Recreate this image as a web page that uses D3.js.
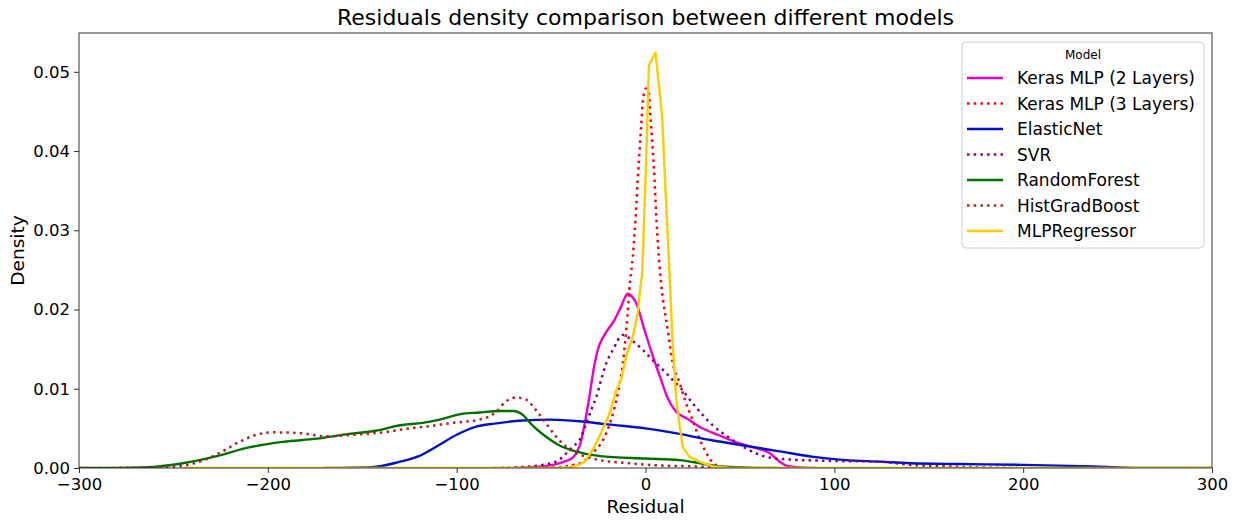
<!DOCTYPE html>
<html>
<head>
<meta charset="utf-8">
<script src="https://cdn.jsdelivr.net/npm/d3@7"></script>
<style>
  body { margin: 0; background: #fff; }
  text { font-family: "DejaVu Sans", sans-serif; fill: #000; }
</style>
</head>
<body>
<div id="chart"></div>
<script>
// residual / density points
var modelNames = ["Keras MLP (2 Layers)", "Keras MLP (3 Layers)", "ElasticNet", "SVR",
  "RandomForest", "HistGradBoost", "MLPRegressor"];

var kerasMlp2 = [[-70,0],[-55,0.0002],[-49,0.0004],[-43,0.0008],[-38.5,0.0013],[-34,0.0035],
  [-31.8,0.0061],[-29.7,0.009],[-27.5,0.0124],[-25.3,0.0149],[-21.7,0.0168],[-16.4,0.0187],
  [-12.9,0.0204],[-9.4,0.022],[-7,0.0216],[-4.9,0.0208],[-0.5,0.0174],[3.9,0.0141],[8.3,0.0111],
  [11.8,0.0088],[16.2,0.0071],[21.5,0.0063],[28.6,0.0052],[39.2,0.0041],[49.8,0.0031],
  [58.6,0.0025],[65.7,0.0019],[71,0.0008],[74.5,0.0003],[80,0.0001],[90,0]];

var kerasMlp3 = [[-60,0],[-45,0.0001],[-40,0.0003],[-33,0.0008],[-28,0.0019],[-22.6,0.0035],
  [-18.2,0.0061],[-14.7,0.0094],[-12,0.0132],[-10.2,0.0174],[-8.1,0.0237],[-6.7,0.0267],
  [-5.8,0.0296],[-4.9,0.033],[-4.1,0.0364],[-3.2,0.0397],[-2.3,0.0431],[-1.4,0.0463],
  [0.35,0.0479],[1.8,0.0473],[2.5,0.0448],[3.5,0.0414],[4.8,0.0364],[5.6,0.0322],[6.7,0.0279],
  [8.3,0.0233],[11.8,0.0174],[14.5,0.0132],[18,0.0108],[21,0.0085],[25,0.006],[28.6,0.0037],
  [32,0.002],[35.5,0.0007],[40,0.0002],[50,0]];

var elasticNet = [[-170,0],[-145,0.0001],[-130,0.0008],[-120,0.0015],[-110,0.0028],[-100,0.0042],
  [-90,0.0052],[-80,0.0056],[-65,0.006],[-50,0.0061],[-35,0.0059],[-20,0.0055],[0,0.005],
  [18,0.0043],[35,0.0035],[53,0.0028],[71,0.0021],[89,0.0014],[106,0.001],[124,0.0008],
  [140,0.0006],[166,0.0005],[200,0.0004],[237,0.0002],[255,0.00005],[270,0],[300,0]];

var svr = [[-80,0],[-67,0.0001],[-54,0.0004],[-46,0.001],[-38.5,0.0027],[-35,0.0035],[-31.4,0.0056],
  [-28.8,0.0073],[-26,0.009],[-23.5,0.0111],[-20.8,0.0132],[-17.3,0.0149],[-12,0.0168],
  [-6.7,0.016],[-1.4,0.0149],[3.9,0.0136],[9.2,0.0124],[13.6,0.0113],[19,0.01],[24.2,0.0084],
  [29.5,0.0069],[36,0.0053],[44.5,0.0038],[53,0.0025],[64,0.0014],[74.5,0.0011],[97.5,0.0009],
  [124,0.0008],[140,0.0004],[160,0.0002],[180,0.00005],[200,0]];

var randomForest = [[-300,0],[-280,0],[-263,0.0001],[-245,0.0006],[-227,0.0015],[-210,0.0026],
  [-192,0.0033],[-174,0.0037],[-157,0.0043],[-143,0.0047],[-130,0.0054],[-118,0.0057],
  [-109,0.0061],[-98,0.0068],[-88,0.007],[-77,0.0072],[-70,0.0072],[-65,0.0067],[-60,0.0054],
  [-53,0.004],[-46,0.0029],[-37,0.0021],[-24,0.0015],[0,0.0012],[18,0.001],[29,0.0006],
  [39,0.0002],[55,0.00005],[70,0]];

var histGradBoost = [[-300,0],[-260,0.00005],[-248,0.0002],[-236,0.0008],[-224,0.0021],
  [-215,0.0033],[-206,0.0042],[-197,0.0045],[-183,0.0044],[-169,0.004],[-155,0.0042],
  [-139,0.0045],[-125,0.005],[-114,0.0053],[-102,0.0057],[-88,0.0061],[-79,0.0071],
  [-74,0.0084],[-68.5,0.0089],[-63,0.0086],[-58,0.0073],[-52.6,0.0056],[-45.6,0.0035],
  [-38.5,0.0021],[-31.4,0.0014],[-24.4,0.001],[-8.5,0.0006],[9,0.0003],[27,0.0002],
  [40,0.00005],[60,0]];

var mlpRegressor = [[-245,0],[-45,0],[-40,0.0001],[-35,0.0004],[-32.3,0.0008],[-27.9,0.0023],
  [-23.5,0.0044],[-19,0.0069],[-15.5,0.0098],[-12.9,0.0111],[-10.2,0.0141],[-6.7,0.0166],
  [-4.1,0.0195],[-2.3,0.0237],[-1.8,0.0242],[-0.5,0.033],[0.7,0.0414],[1.8,0.0508],[5.3,0.0524],
  [8.8,0.0444],[10.6,0.0351],[12.3,0.0267],[13,0.0229],[14.5,0.0153],[16.2,0.009],[18,0.0055],
  [19.8,0.0026],[23.3,0.0014],[28.6,0.0008],[35.6,0.0002],[45,0],[300,0]];

var xTicks = [-300, -200, -100, 0, 100, 200, 300];
var yTicks = [0, 0.01, 0.02, 0.03, 0.04, 0.05];

var series = [
  { name: modelNames[0], data: kerasMlp2, color: "#ee00cc", dotted: false },
  { name: modelNames[1], data: kerasMlp3, color: "#ff0000", dotted: true },
  { name: modelNames[2], data: elasticNet, color: "#0010cc", dotted: false },
  { name: modelNames[3], data: svr, color: "#800080", dotted: true },
  { name: modelNames[4], data: randomForest, color: "#007000", dotted: false },
  { name: modelNames[5], data: histGradBoost, color: "#b22222", dotted: true },
  { name: modelNames[6], data: mlpRegressor, color: "#ffcc00", dotted: false, linear: true }
];

var svgWidth = 1237, svgHeight = 520;
var margin = { top: 33, right: 25, bottom: 52, left: 79 };
var width = svgWidth - margin.left - margin.right;
var height = svgHeight - margin.top - margin.bottom;

var svg = d3.select("#chart").append("svg")
  .attr("width", svgWidth)
  .attr("height", svgHeight);

var plot = svg.append("g")
  .attr("transform", `translate(${margin.left}, ${margin.top})`);

var x = d3.scaleLinear().domain([-300, 300]).range([0, width]);
var y = d3.scaleLinear().domain([0, 0.0549]).range([height, 0]);

svg.append("defs").append("clipPath").attr("id", "clip")
  .append("rect").attr("width", width).attr("height", height);

// lines
var lines = plot.append("g").attr("clip-path", "url(#clip)");
series.forEach(function (s) {
  var line = d3.line()
    .x(d => x(d[0]))
    .y(d => y(d[1]))
    .curve(s.linear ? d3.curveLinear : d3.curveMonotoneX);
  lines.append("path")
    .datum(s.data)
    .attr("fill", "none")
    .attr("stroke", s.color)
    .attr("stroke-width", s.dotted ? 2.5 : 2.4)
    .attr("stroke-dasharray", s.dotted ? "2.5,4.2" : null)
    .attr("stroke-linejoin", "round")
    .attr("d", line);
});

// axes
var xAxis = plot.append("g")
  .attr("transform", `translate(0, ${height})`)
  .call(d3.axisBottom(x).tickValues(xTicks).tickSize(5).tickPadding(5));
var yAxis = plot.append("g")
  .call(d3.axisLeft(y).tickValues(yTicks).tickFormat(d3.format(".2f")).tickSize(5).tickPadding(4));
[xAxis, yAxis].forEach(function (a) {
  a.select(".domain").remove();
  a.selectAll("line").attr("stroke", "#333");
  a.selectAll("text").style("font-size", "16.5px").attr("fill", "#000");
});

plot.append("rect")
  .attr("width", width).attr("height", height)
  .attr("fill", "none").attr("stroke", "#333").attr("stroke-width", 1);

// labels
svg.append("text")
  .attr("x", margin.left + width / 2).attr("y", 25)
  .attr("text-anchor", "middle").style("font-size", "22px")
  .text("Residuals density comparison between different models");
svg.append("text")
  .attr("x", margin.left + width / 2).attr("y", 513)
  .attr("text-anchor", "middle").style("font-size", "18.5px")
  .text("Residual");
svg.append("text")
  .attr("transform", `translate(24, ${margin.top + height / 2}) rotate(-90)`)
  .attr("text-anchor", "middle").style("font-size", "18.5px")
  .text("Density");

// legend
var legend = svg.append("g").attr("transform", "translate(962, 42)");
legend.append("rect")
  .attr("width", 242).attr("height", 206).attr("rx", 4)
  .attr("fill", "#fff").attr("fill-opacity", 0.8)
  .attr("stroke", "#d0d0d0");
legend.append("text")
  .attr("x", 121).attr("y", 17).attr("text-anchor", "middle")
  .style("font-size", "12px").text("Model");
series.forEach(function (s, i) {
  var ly = 36 + i * 25.5;
  legend.append("line")
    .attr("x1", 5).attr("x2", 41).attr("y1", ly).attr("y2", ly)
    .attr("stroke", s.color)
    .attr("stroke-width", s.dotted ? 2.5 : 2.4)
    .attr("stroke-dasharray", s.dotted ? "2.5,4.2" : null);
  legend.append("text")
    .attr("x", 55).attr("y", ly + 6)
    .style("font-size", "17px")
    .text(s.name);
});
</script>
</body>
</html>
